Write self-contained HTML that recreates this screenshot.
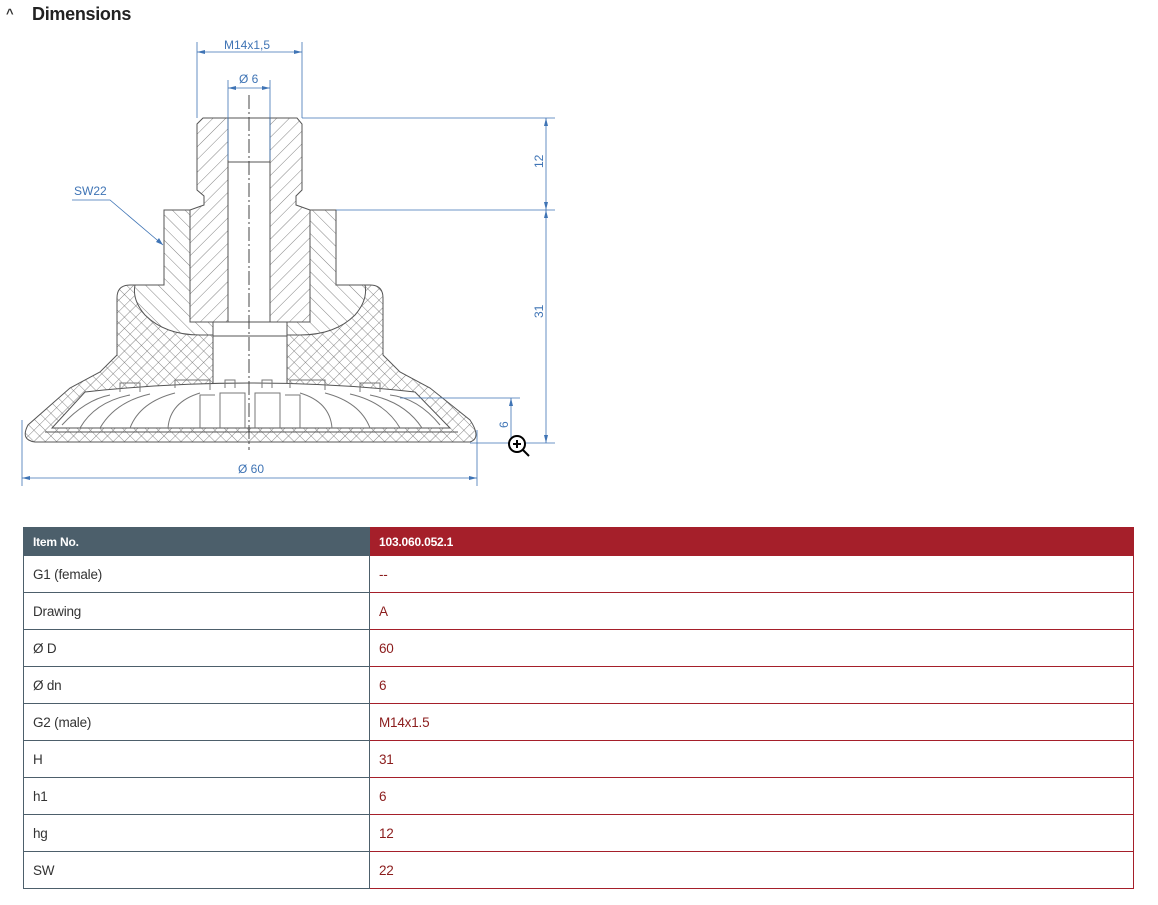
<!DOCTYPE html>
<html><head><meta charset="utf-8"><style>
body{margin:0;background:#fff;width:1158px;height:905px;overflow:hidden;font-family:"Liberation Sans",Arial,sans-serif;}
.h{position:absolute;left:32px;top:4px;font-size:18px;font-weight:bold;color:#222;letter-spacing:-0.3px}
.car{position:absolute;left:6px;top:6px;font-size:13px;color:#333;font-weight:bold}
table{position:absolute;left:23px;top:527px;width:1111px;border-collapse:collapse;font-size:13.5px;letter-spacing:-0.2px}
td{height:36px;padding:0 0 0 9px;border:1px solid #4d5f6b;color:#333}
td.r{border-color:#a51f2a;color:#8b1c1c;border-left-color:#4d5f6b}
tr.hd td{height:27px;font-size:12px;font-weight:bold;color:#fff;background:#4c5f6b;border-color:#4c5f6b}
tr.hd td.r{background:#a51f2a;border-color:#a51f2a}
</style></head><body>
<div class="car">^</div><div class="h">Dimensions</div>
<svg width="600" height="500" style="position:absolute;left:0;top:0" xmlns="http://www.w3.org/2000/svg">
<defs>
<pattern id="x" width="8" height="8" patternUnits="userSpaceOnUse" patternTransform="rotate(45)"><rect width="8" height="8" fill="#fff"/><path d="M0 0H8M0 0V8" stroke="#666" stroke-width="0.8"/></pattern>
<pattern id="a" width="9" height="9" patternUnits="userSpaceOnUse" patternTransform="rotate(45)"><rect width="9" height="9" fill="#fff"/><path d="M0 0V9" stroke="#666" stroke-width="0.8"/></pattern>
<pattern id="b" width="9" height="9" patternUnits="userSpaceOnUse" patternTransform="rotate(-45)"><rect width="9" height="9" fill="#fff"/><path d="M0 0V9" stroke="#666" stroke-width="0.8"/></pattern>
</defs>
<g stroke="#555" stroke-width="1">
<path d="M130 285 H370 Q383 285 383 298 V355 L400 372 L430 388 L470 420 Q482 438 470 442 H35 Q20 440 28 425 L70 388 L100 372 L117 355 V298 Q117 285 130 285Z" fill="url(#x)"/>
<path d="M164 210 H336 V285 H365 Q368 300 355 315 Q335 335 300 335 H200 Q165 335 145 315 Q132 300 135 285 H164Z" fill="url(#b)"/>
<path d="M203 118 H297 L302 124 V190 L296 196 V205 L310 210 V322 H190 V210 L204 205 V196 L197 190 V124Z" fill="url(#a)"/>
<rect x="228" y="118" width="42" height="204" fill="#fff"/>
<path d="M228 162H270" />
<rect x="213" y="322" width="74" height="14" fill="#fff"/>
<rect x="213" y="336" width="74" height="50" fill="#fff"/>
<path d="M85 392 Q250 374 415 392 L450 428 H52Z" fill="#fff"/>
<path d="M45 432 H458" />
<g fill="none" stroke="#777">
<path d="M62 425 Q85 400 110 395"/><path d="M80 428 Q95 402 130 395"/><path d="M100 428 Q115 402 150 394"/><path d="M130 428 Q140 402 175 393"/><path d="M168 428 Q170 402 200 393"/><path d="M200 428 V395 H215"/><path d="M220 428 V393 H245 V428"/><path d="M255 428 V393 H280 V428"/><path d="M300 428 V395 H285"/><path d="M332 428 Q330 402 300 393"/><path d="M370 428 Q360 402 325 393"/><path d="M400 428 Q385 402 350 394"/><path d="M422 428 Q405 402 370 395"/><path d="M440 425 Q418 398 390 395"/>
<path d="M120 392 V383 H140 V392M175 388 V380 H210 V390M225 388V380H235V388M262 388V380H272V388M290 388V380H325V390M360 392V383H380V392"/>
</g>
</g>
<path d="M249 95V450" stroke="#444" stroke-width="1" stroke-dasharray="14 3 2 3"/>
<g stroke="#3f74b5" stroke-width="0.8" fill="none">
<path d="M197 42V118M302 42V118M197 52H302M228 80V160M270 80V160M228 88H270"/>
<path d="M302 118H555M336 210H555M470 443H555M400 398H520M546 118V443M511 398V443"/>
<path d="M22 420V486M477 430V486M22 478H477"/>
<path d="M72 200H110L163 245"/>
</g>
<g fill="#3f74b5">
<path d="M197 52l8-2v4zM302 52l-8-2v4zM228 88l8-2v4zM270 88l-8-2v4zM546 118l-2 8h4zM546 210l-2-8h4zM546 210l-2 8h4zM546 443l-2-8h4zM511 398l-2 8h4zM22 478l8-2v4zM477 478l-8-2v4zM163 245l-7-3 3-4z"/>
</g>
<g fill="#3f74b5" font-family="Liberation Sans,sans-serif" font-size="12">
<text x="224" y="49">M14x1,5</text><text x="239" y="83">Ø 6</text><text x="238" y="473">Ø 60</text><text x="74" y="195">SW22</text>
<text transform="translate(543 168) rotate(-90)">12</text><text transform="translate(543 318) rotate(-90)">31</text><text transform="translate(508 428) rotate(-90)">6</text>
</g>
<circle cx="517" cy="444" r="8" fill="#fff" stroke="#000" stroke-width="2"/><path d="M523 450l6 6M513 444h8M517 440v8" stroke="#000" stroke-width="2"/>
</svg>
<table>
<tr class="hd"><td style="width:336px">Item No.</td><td class="r">103.060.052.1</td></tr>
<tr><td>G1 (female)</td><td class="r">--</td></tr>
<tr><td>Drawing</td><td class="r">A</td></tr>
<tr><td>Ø D</td><td class="r">60</td></tr>
<tr><td>Ø dn</td><td class="r">6</td></tr>
<tr><td>G2 (male)</td><td class="r">M14x1.5</td></tr>
<tr><td>H</td><td class="r">31</td></tr>
<tr><td>h1</td><td class="r">6</td></tr>
<tr><td>hg</td><td class="r">12</td></tr>
<tr><td>SW</td><td class="r">22</td></tr>
</table>
</body></html>
